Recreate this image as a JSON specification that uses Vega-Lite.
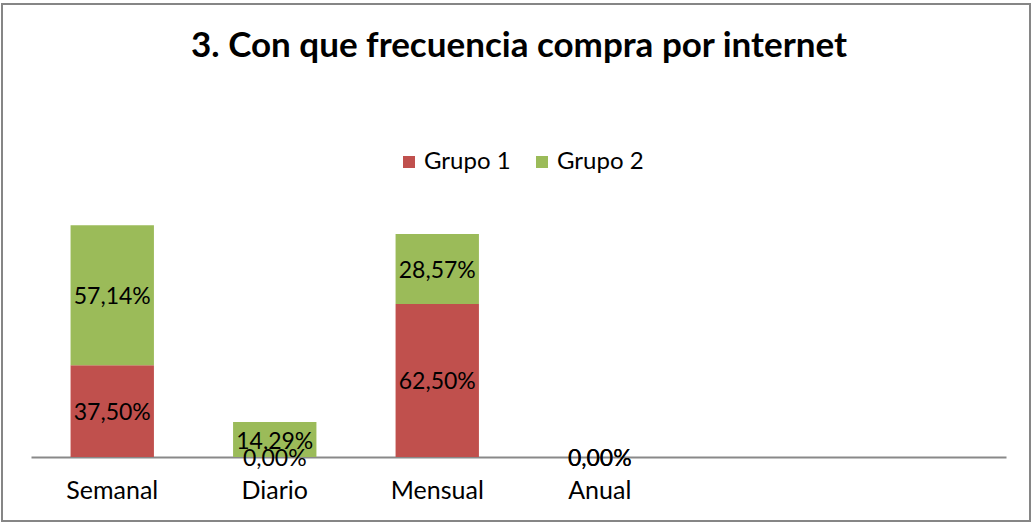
{
  "$schema": "https://vega.github.io/schema/vega-lite/v6.json",
  "width": 1028,
  "height": 517,
  "autosize": {"type": "none"},
  "padding": {"left": 2, "top": 4, "right": 2, "bottom": 2},
  "background": "white",
  "config": {
    "font": "Lato",
    "view": {"stroke": "#868686", "strokeWidth": 2},
    "locale": {"number": {"decimal": ",", "thousands": ".", "grouping": [3], "currency": ["", " €"]}}
  },
  "title": {
    "text": "3. Con que frecuencia compra por internet",
    "font": "Lato",
    "fontSize": 35,
    "fontWeight": "bold",
    "color": "#000000",
    "anchor": "middle",
    "frame": "group",
    "baseline": "alphabetic",
    "offset": -62,
    "dy": 26,
    "dx": 3
  },
  "data": {
    "values": [
      {"cat": "Semanal", "grupo": "Grupo 1", "value": 0.375},
      {"cat": "Semanal", "grupo": "Grupo 2", "value": 0.5714},
      {"cat": "Diario", "grupo": "Grupo 1", "value": 0.0},
      {"cat": "Diario", "grupo": "Grupo 2", "value": 0.1429},
      {"cat": "Mensual", "grupo": "Grupo 1", "value": 0.625},
      {"cat": "Mensual", "grupo": "Grupo 2", "value": 0.2857},
      {"cat": "Anual", "grupo": "Grupo 1", "value": 0.0},
      {"cat": "Anual", "grupo": "Grupo 2", "value": 0.0}
    ]
  },
  "transform": [
    {"stack": "value", "groupby": ["cat"], "sort": [{"field": "grupo", "order": "ascending"}], "as": ["y0", "y1"]},
    {"calculate": "(datum.y0 + datum.y1) / 2", "as": "ymid"}
  ],
  "encoding": {
    "x": {
      "field": "cat",
      "type": "nominal",
      "sort": null,
      "scale": {
        "domain": ["Semanal", "Diario", "Mensual", "Anual", "_e1", "_e2"],
        "range": [29, 1004],
        "paddingInner": 0.487,
        "paddingOuter": 0.2435
      },
      "axis": {
        "title": null,
        "offset": -64,
        "labelAngle": 0,
        "ticks": false,
        "domainColor": "#898989",
        "domainWidth": 2,
        "labelFont": "Lato",
        "labelFontSize": 25,
        "labelColor": "#000000",
        "labelPadding": 21,
        "labelExpr": "indexof(['_e1','_e2'], datum.value) >= 0 ? '' : datum.label"
      }
    }
  },
  "layer": [
    {
      "mark": {"type": "bar"},
      "encoding": {
        "y": {
          "field": "y0",
          "type": "quantitative",
          "scale": {"domain": [-0.261, 1.849], "nice": false, "zero": false},
          "axis": null
        },
        "y2": {"field": "y1"},
        "color": {
          "field": "grupo",
          "type": "nominal",
          "scale": {"domain": ["Grupo 1", "Grupo 2"], "range": ["#C0504D", "#9BBB59"]},
          "legend": {
            "title": null,
            "orient": "none",
            "legendX": 395,
            "legendY": 146,
            "direction": "horizontal",
            "symbolType": "square",
            "symbolSize": 144,
            "symbolStrokeWidth": 0,
            "labelFont": "Lato",
            "labelFontSize": 24,
            "labelColor": "#000000",
            "labelOffset": 3,
            "columnPadding": 19,
            "padding": 0
          }
        }
      }
    },
    {
      "mark": {"type": "text", "font": "Lato", "fontSize": 23, "color": "#000000", "baseline": "middle", "align": "center", "dy": 2},
      "encoding": {
        "y": {"field": "ymid", "type": "quantitative", "axis": null},
        "text": {"field": "value", "type": "quantitative", "format": ".2%"}
      }
    }
  ]
}
